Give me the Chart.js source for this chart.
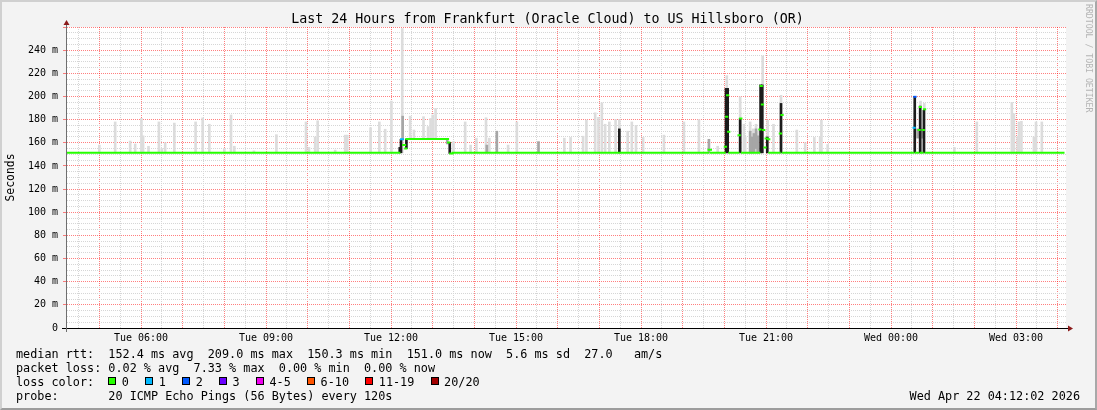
<!DOCTYPE html>
<html><head><meta charset="utf-8">
<script src="https://cdn.jsdelivr.net/npm/chart.js@4.4.1/dist/chart.umd.min.js"></script>
<style>
html,body{margin:0;padding:0;background:#f3f3f3;}
#wrap{position:relative;width:1097px;height:410px;overflow:hidden;background:#f3f3f3;font-family:'DejaVu Sans Mono',monospace;color:#000;}
canvas{position:absolute;left:0;top:0;}
#frame{position:absolute;left:0;top:0;width:1097px;height:410px;box-sizing:border-box;border-top:2px solid #d0d0d0;border-left:2px solid #d0d0d0;border-right:2px solid #a8a8a8;border-bottom:2px solid #9c9c9c;pointer-events:none;}
#title{position:absolute;left:0;width:1095px;top:11px;text-align:center;font-size:13.3px;line-height:16px;white-space:pre;}
#credit{position:absolute;left:1083.5px;top:4px;writing-mode:vertical-rl;font-size:8.2px;line-height:10px;color:#b4b4b4;white-space:pre;}
.line{position:absolute;left:16px;font-size:11.8px;line-height:14px;white-space:pre;}
#date{position:absolute;right:17px;font-size:11.8px;line-height:14px;white-space:pre;}
.sq{display:inline-block;width:6px;height:6px;border:1px solid #000;vertical-align:1.5px;margin-right:5.5px;}
.lab{margin-right:16.3px;}
</style></head>
<body>
<div id="wrap">
<canvas id="c" width="1097" height="410"></canvas>
<div id="title">Last 24 Hours from Frankfurt (Oracle Cloud) to US Hillsboro (OR)</div>
<div id="credit">RRDTOOL / TOBI OETIKER</div>
<div class="line" style="top:347.4px">median rtt:  152.4 ms avg  209.0 ms max  150.3 ms min  151.0 ms now  5.6 ms sd  27.0   am/s</div>
<div class="line" style="top:361.4px">packet loss: 0.02 % avg  7.33 % max  0.00 % min  0.00 % now</div>
<div class="line" id="lossline" style="top:375.4px">loss color:  </div>
<div class="line" style="top:389.4px">probe:       20 ICMP Echo Pings (56 Bytes) every 120s</div>
<div id="date" style="top:389.4px">Wed Apr 22 04:12:02 2026</div>
<div id="frame"></div>
</div>
<script>
// ---- data (x = hours since Tue 00:00; y = round trip time in ms) ----
const xMin = 4.2, xMax = 28.2;          // Tue 04:12 -> Wed 04:12
const yMin = 0, yMax = 260;
const tickHours  = [6, 9, 12, 15, 18, 21, 24, 27];
const tickLabels = ['Tue 06:00', 'Tue 09:00', 'Tue 12:00', 'Tue 15:00', 'Tue 18:00', 'Tue 21:00', 'Wed 00:00', 'Wed 03:00'];

// light smoke (sparse outliers)
const lightT  = [5.00,5.38,5.74,5.86,6.01,6.05,6.18,6.43,6.50,6.58,6.80,7.31,7.48,7.64,8.00,8.16,8.24,8.71,9.25,9.96,10.03,10.18,10.24,10.66,10.90,10.95,11.51,11.72,11.86,12.01,12.27,12.46,12.55,12.78,12.89,12.95,13.00,13.07,13.50,13.78,13.91,14.05,14.28,14.36,14.81,15.02,16.16,16.31,16.61,16.69,16.90,16.98,17.06,17.14,17.24,17.39,17.48,17.68,17.78,17.88,18.05,18.55,19.03,19.39,19.84,20.06,20.38,20.47,20.50,20.62,20.69,20.76,20.81,20.92,21.04,21.18,21.36,21.74,21.94,22.16,22.30,22.33,22.48,24.71,24.80,25.52,26.06,26.90,26.95,27.04,27.07,27.13,27.43,27.48,27.62];
const lightLo = [151.3,151.3,151.3,151.3,151.3,151.3,151.3,151.3,151.3,151.3,151.3,151.3,151.3,151.3,151.3,151.3,151.3,151.3,151.3,151.3,151.3,151.3,151.3,151.3,151.3,151.3,151.3,151.3,151.3,151.3,151.3,163.2,163.2,163.2,163.2,163.2,163.2,163.2,151.3,151.3,151.3,151.3,151.3,151.3,151.3,151.3,151.3,151.3,151.3,151.3,151.3,151.3,151.3,151.3,151.3,151.3,151.3,151.3,151.3,151.3,151.3,151.3,151.3,151.3,151.3,151.3,151.3,151.3,151.3,151.3,151.3,151.3,151.3,151.3,151.3,151.3,151.3,151.3,151.3,151.3,151.3,151.3,151.3,151.3,151.3,151.3,151.3,151.3,151.3,151.3,151.3,151.3,151.3,151.3,151.3];
const lightHi = [158,178,161.5,159,181,166,157,178,155,160,177,178,181.5,176,155,184,157,153,167,178,156,165,179,153.7,166.6,166.6,173,178,171.7,196,258.7,183,171,182.5,174,181,184,189.6,161,178,158,164,181.6,164,158,178,164,164.6,165.7,179.6,185.9,182,194.5,176,178,180,180,170,178,175,164.6,166.6,178,180,157,218,199.7,176,165,178,172,176,170,235,179.6,176,201,171,160,164.6,165,179.6,158.5,196,194,156,178,194.8,185,165,178,178.5,165,178,178];

// medium smoke
const midT  = [12.28,13.35,14.30,14.54,15.54,19.63,20.62,20.66,20.71,20.76,20.80,24.64,24.75];
const midLo = [163.2,159,151.3,151.3,151.3,151.3,151.3,151.3,151.3,155,151.3,164,164];
const midHi = [183,163.5,158,170,161,163,170,165,168,172,166,172,172];

// dense smoke
const darkT  = [12.21,12.24,12.37,13.41,17.48,20.04,20.08,20.38,20.87,20.91,21.03,21.36,24.57,24.70,24.79];
const darkLo = [151.3,151.3,155,150.8,151.3,151.3,151.3,151.3,151.3,151.3,151.3,151.3,151.3,151.3,151.3];
const darkHi = [156,163,163.2,160.3,172,207,207,181,210,210,165,194,200,191.7,188];

// median rtt segments, with loss class (0 = no loss, 1 = 1 lost, 2 = 2 lost)
const medStart = [4.20,12.24,12.29,12.34,12.37,13.37,13.42,13.48,19.62,19.68,20.01,20.04,20.065,20.09,20.12,20.34,20.38,20.42,20.84,20.87,20.90,20.93,20.96,20.99,21.05,21.08,21.33,21.37,21.40,24.54,24.56,24.59,24.66,24.69,24.72,24.76,24.79,24.83];
const medEnd   = [12.20,12.29,12.34,12.37,13.37,13.40,13.48,19.62,19.68,20.01,20.04,20.07,20.095,20.12,20.34,20.37,20.41,20.84,20.87,20.90,20.93,20.96,20.99,21.03,21.08,21.33,21.36,21.40,24.53,24.57,24.59,24.66,24.69,24.72,24.76,24.79,24.82,28.14];
const medVal   = [151.3,163,158,155,163.2,160.3,150.8,151.3,154,151.3,156.5,182.4,201,169.5,151.3,166.6,181,151.3,171.5,209,193,171,156,163.7,163,151.3,168,184,151.3,173,199.7,151.3,171,191,151.3,171,189,151.3];
const medLoss  = [0,1,0,0,0,0,0,0,0,0,0,0,0,0,0,0,0,0,0,0,0,0,0,0,0,0,0,0,0,1,2,0,0,0,0,0,0,0];

const lossLabels = ['0','1','2','3','4-5','6-10','11-19','20/20'];
const lossColors = ['#26ff00','#00b8ff','#0059ff','#6a00ff','#ee00ee','#ff5500','#ff0000','#a10000'];

// ---- legend row ----
const ll = document.getElementById('lossline');
lossLabels.forEach((l, i) => {
  const s = document.createElement('span'); s.className = 'sq'; s.style.background = lossColors[i]; ll.appendChild(s);
  const t = document.createElement('span'); t.className = 'lab'; t.textContent = l; ll.appendChild(t);
});

// ---- datasets ----
const bars = (T, L, H) => T.map((t, i) => ({x: t, y: [L[i], H[i]]}));
function medianFor(cls) {
  const pts = [];
  medStart.forEach((s, i) => {
    if (medLoss[i] !== cls) return;
    pts.push({x: s, y: medVal[i]}, {x: medEnd[i], y: medVal[i]}, {x: medEnd[i], y: null});
  });
  return pts;
}
const MAJOR = 'rgba(255,0,0,0.5)', MINOR = '#d6d6d6';
const xGrid = [];
for (let h = 4.5; h <= 28.0001; h += 0.5) xGrid.push(Math.round(h * 10) / 10);
const yGrid = [];
for (let v = yMin; v <= yMax; v += 5) yGrid.push(v);
const tv = c => (c && c.tick) ? c.tick.value : NaN;

const frame = {
  id: 'rrdFrame',
  beforeDraw(chart) {
    const {ctx, chartArea: a} = chart;
    ctx.save();
    ctx.fillStyle = '#f3f3f3'; ctx.fillRect(0, 0, chart.width, chart.height);
    ctx.fillStyle = '#ffffff'; ctx.fillRect(a.left, a.top, a.right - a.left, a.bottom - a.top);
    ctx.restore();
  },
  afterDraw(chart) {
    const {ctx, chartArea: a} = chart;
    const bx = a.left + 0.5, by = a.bottom + 0.5;
    ctx.save();
    ctx.lineWidth = 1;
    ctx.strokeStyle = '#000';
    ctx.beginPath(); ctx.moveTo(a.left - 4, by); ctx.lineTo(a.right + 3, by); ctx.stroke();
    ctx.strokeStyle = '#6e6e6e';
    ctx.beginPath(); ctx.moveTo(bx, a.top - 3); ctx.lineTo(bx, a.bottom + 4); ctx.stroke();
    ctx.fillStyle = '#8b1a1a';
    ctx.beginPath(); ctx.moveTo(bx - 3, a.top - 2); ctx.lineTo(bx + 3, a.top - 2); ctx.lineTo(bx, a.top - 7); ctx.closePath(); ctx.fill();
    ctx.beginPath(); ctx.moveTo(a.right + 2, by - 3); ctx.lineTo(a.right + 2, by + 3); ctx.lineTo(a.right + 7, by); ctx.closePath(); ctx.fill();
    ctx.restore();
  }
};

const lineDs = (cls, order) => ({
  type: 'line', data: medianFor(cls), borderColor: lossColors[cls], borderWidth: 2,
  pointRadius: 0, spanGaps: false, tension: 0, borderCapStyle: 'square', order
});

new Chart(document.getElementById('c'), {
  type: 'bar',
  data: {
    datasets: [
      lineDs(0, 0), lineDs(1, 0), lineDs(2, 0),
      {data: bars(darkT, darkLo, darkHi), backgroundColor: '#1c1c1c', barThickness: 2, grouped: false, borderWidth: 0, order: 1},
      {data: bars(midT, midLo, midHi), backgroundColor: '#a6a6a6', barThickness: 2, grouped: false, borderWidth: 0, order: 2},
      {data: bars(lightT, lightLo, lightHi), backgroundColor: '#dcdcdc', barThickness: 2, grouped: false, borderWidth: 0, order: 3}
    ]
  },
  options: {
    responsive: false, animation: false, devicePixelRatio: 1, events: [],
    layout: {padding: {top: 27, right: 31, bottom: 0, left: 0}},
    plugins: {legend: {display: false}, tooltip: {enabled: false}, title: {display: false}},
    scales: {
      x: {
        type: 'linear', min: xMin, max: xMax, offset: false, bounds: 'data',
        afterBuildTicks: s => { s.ticks = xGrid.map(v => ({value: v})); },
        afterFit: s => { s.height = 82; },
        ticks: {
          autoSkip: false, maxRotation: 0, padding: 4, color: '#000',
          font: {family: 'DejaVu Sans Mono', size: 10},
          callback: v => { const i = tickHours.indexOf(v); return i >= 0 ? tickLabels[i] : ''; }
        },
        grid: {offset: false, color: c => Number.isInteger(tv(c)) ? MAJOR : MINOR, lineWidth: 1, drawTicks: false},
        border: {dash: [1, 1], color: '#000', width: 1}
      },
      y: {
        type: 'linear', min: yMin, max: yMax, bounds: 'data',
        afterBuildTicks: s => { s.ticks = yGrid.map(v => ({value: v})); },
        afterFit: s => { s.width = 66; },
        ticks: {
          autoSkip: false, padding: 5, color: '#000',
          font: {family: 'DejaVu Sans Mono', size: 10},
          callback: v => (v % 20 === 0 && v <= 240) ? (v === 0 ? '0' : v + ' m') : ''
        },
        grid: {
          offset: false,
          color: c => tv(c) % 20 === 0 ? MAJOR : MINOR, lineWidth: 1,
          drawTicks: true, tickLength: 3,
          tickColor: c => tv(c) % 20 === 0 ? MAJOR : 'rgba(0,0,0,0)'
        },
        border: {dash: [1, 1], color: '#6e6e6e', width: 1},
        title: {display: true, text: 'Seconds', color: '#000', font: {family: 'DejaVu Sans Mono', size: 11.4}, padding: {top: 4, bottom: 0}}
      }
    }
  },
  plugins: [frame]
});
</script>
</body></html>
